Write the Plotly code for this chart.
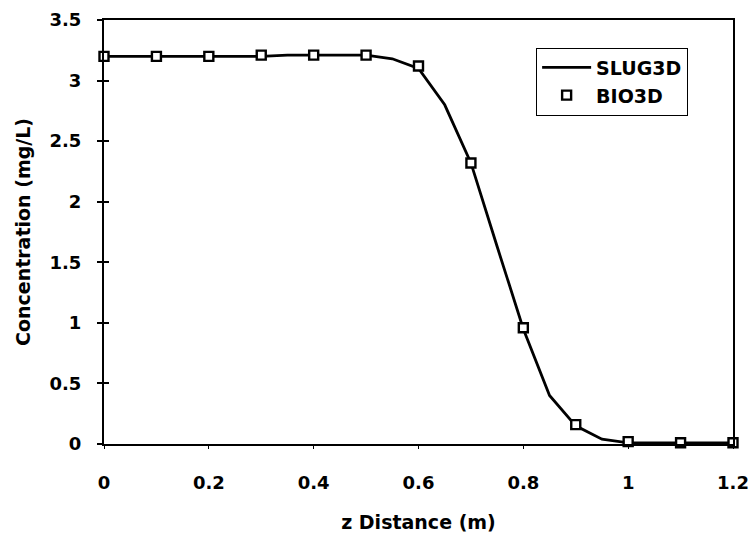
import plotly.graph_objects as go

# SLUG3D simulated profile (continuous curve)
slug_z = [0.0, 0.05, 0.1, 0.15, 0.2, 0.25, 0.3, 0.35, 0.4, 0.45, 0.5, 0.55,
          0.6, 0.65, 0.7, 0.75, 0.8, 0.85, 0.9, 0.95, 1.0, 1.05, 1.1, 1.15, 1.2]
slug_c = [3.2, 3.2, 3.2, 3.2, 3.2, 3.2, 3.2, 3.21, 3.21, 3.21, 3.21, 3.18,
          3.1, 2.8, 2.32, 1.63, 0.95, 0.4, 0.15, 0.04, 0.01, 0.01, 0.01, 0.01, 0.01]

# BIO3D results at 0.1 m spacing
bio_z = [0.0, 0.1, 0.2, 0.3, 0.4, 0.5, 0.6, 0.7, 0.8, 0.9, 1.0, 1.1, 1.2]
bio_c = [3.2, 3.2, 3.2, 3.21, 3.21, 3.21, 3.12, 2.32, 0.96, 0.16, 0.02, 0.01, 0.01]

x_ticks = [0, 0.2, 0.4, 0.6, 0.8, 1, 1.2]
x_tick_text = ["0", "0.2", "0.4", "0.6", "0.8", "1", "1.2"]
y_ticks = [0, 0.5, 1, 1.5, 2, 2.5, 3, 3.5]
y_tick_text = ["0", "0.5", "1", "1.5", "2", "2.5", "3", "3.5"]

FONT = "DejaVu Sans, Liberation Sans, sans-serif"

fig = go.Figure()
fig.add_trace(go.Scatter(
    x=slug_z, y=slug_c, mode="lines", name="SLUG3D",
    line=dict(color="black", width=2.8),
))
fig.add_trace(go.Scatter(
    x=bio_z, y=bio_c, mode="markers", name="BIO3D",
    marker=dict(symbol="square", size=9, color="white",
                line=dict(color="black", width=2.4)),
    cliponaxis=False,
))
# invisible trace on the overlay axis so its inward ticks render
fig.add_trace(go.Scatter(x=[0], y=[0], yaxis="y2", mode="markers",
                         marker=dict(opacity=0), showlegend=False,
                         hoverinfo="skip"))

fig.update_layout(
    width=750, height=539,
    margin=dict(l=104, r=17, t=20, b=95),
    paper_bgcolor="white", plot_bgcolor="white",
    font=dict(family=FONT, color="black", size=17, weight="bold"),
    showlegend=True,
    legend=dict(
        x=0.687, y=0.935, xanchor="left", yanchor="top",
        bordercolor="black", borderwidth=1, bgcolor="white",
        font=dict(family=FONT, size=19, color="black", weight="bold"),
        tracegroupgap=0, itemwidth=49,
    ),
    xaxis=dict(
        range=[0, 1.2], tickvals=x_ticks, ticktext=x_tick_text,
        showgrid=False, zeroline=False, automargin=False,
        showline=True, linecolor="black", linewidth=2, mirror=True,
        ticks="outside", ticklen=3, tickcolor="black", tickwidth=1,
        ticklabelstandoff=18,
        tickfont=dict(family=FONT, size=18, weight="bold"),
        title=dict(text="z Distance (m)", standoff=24,
                   font=dict(family=FONT, size=19, weight="bold")),
    ),
    yaxis=dict(
        range=[0, 3.5], tickvals=y_ticks, ticktext=y_tick_text,
        showgrid=False, zeroline=False, automargin=False,
        showline=True, linecolor="black", linewidth=2, mirror=True,
        ticks="outside", ticklen=5, tickcolor="black", tickwidth=2,
        ticklabelstandoff=12,
        tickfont=dict(family=FONT, size=18, weight="bold"),
        title=dict(text="Concentration (mg/L)", standoff=14,
                   font=dict(family=FONT, size=19, weight="bold")),
    ),
    yaxis2=dict(
        overlaying="y", matches="y", side="left", automargin=False,
        tickvals=y_ticks, showticklabels=False,
        showgrid=False, zeroline=False, showline=False,
        ticks="inside", ticklen=5, tickcolor="black", tickwidth=2,
    ),
)

fig.write_html("out.html")
